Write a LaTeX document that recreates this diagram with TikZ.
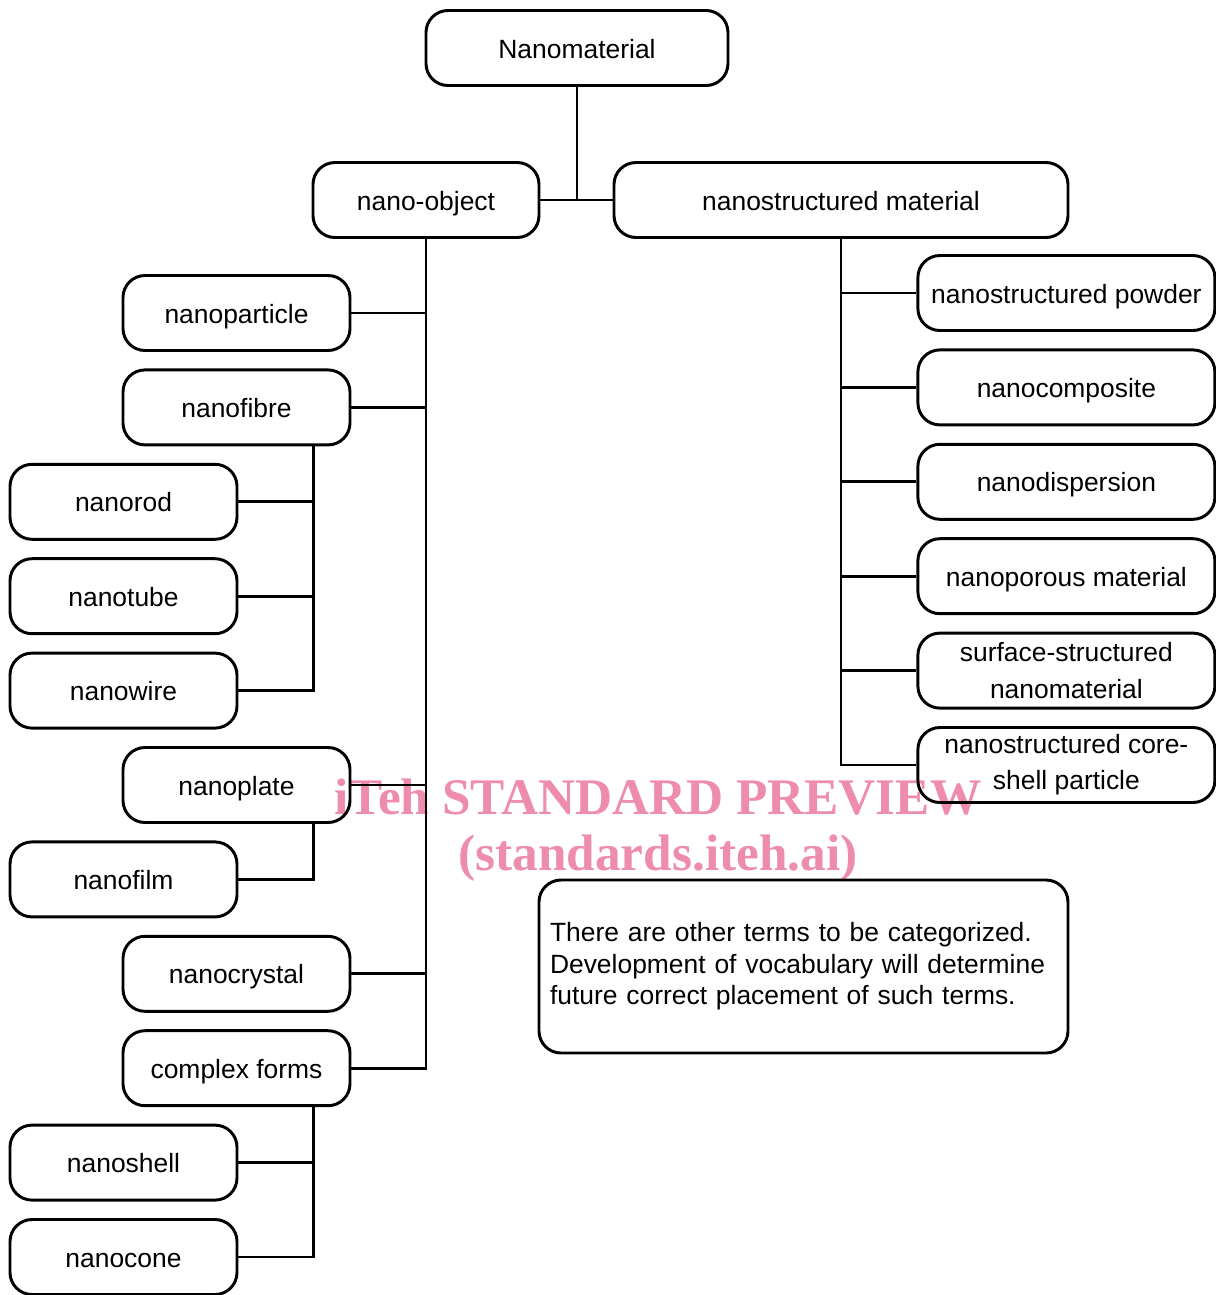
\documentclass[tikz,border=0pt]{standalone}
\usepackage{fontspec}
\setmainfont{Liberation Sans}
\newfontfamily\wmfont{Liberation Serif}
\usetikzlibrary{positioning}
\definecolor{wmpink}{RGB}{238,141,171}

\begin{document}
\begin{tikzpicture}[line width=2.1pt, node distance=2.36cm,
    term/.style={draw, rounded corners=0.55cm, minimum height=1.875cm, align=center,
        inner sep=0pt, font=\fontsize{18.8}{25.8}\selectfont},
    oneline/.style={text height=18pt, text depth=3.7pt},
    sub/.style={term, oneline, minimum width=5.675cm},
    part/.style={term, minimum width=7.425cm},
    wmtext/.style={text=wmpink, font=\wmfont\bfseries\fontsize{36.5}{40}\selectfont}]

    \useasboundingbox (0,0) rectangle (30.4,-32.375);

    % Watermark
    \node [wmtext]  (wm1) at (16.45,-19.925) {iTeh STANDARD PREVIEW};
    \node [wmtext]  (wm2) at (16.45,-21.45)  {(standards.iteh.ai)};

    % Nodes {top, nano-object branch, nanostructured material branch}
    \node [term, oneline, minimum width=7.55cm]  (nm)   at (14.425,-1.2) {Nanomaterial};
    \node [term, oneline, minimum width=5.65cm]  (nobj) at (10.65,-5.0)  {nano-object};
    \node [term, oneline, minimum width=11.35cm] (nsm)  at (21.025,-5.0) {nanostructured material};

    \node [sub]     (npa)   at (5.9125,-7.825)                  {nanoparticle};
    \node [sub]     (nfi)   [below of=npa]                      {nanofibre};
    \node [sub]     (nro)   [below of=nfi, xshift=-2.825cm]     {nanorod};
    \node [sub]     (ntu)   [below of=nro]                      {nanotube};
    \node [sub]     (nwi)   [below of=ntu]                      {nanowire};
    \node [sub]     (npl)   [below of=nwi, xshift=2.825cm]      {nanoplate};
    \node [sub]     (nfm)   [below of=npl, xshift=-2.825cm]     {nanofilm};
    \node [sub]     (ncr)   [below of=nfm, xshift=2.825cm]      {nanocrystal};
    \node [sub]     (ncf)   [below of=ncr]                      {complex forms};
    \node [sub]     (nsh)   [below of=ncf, xshift=-2.825cm]     {nanoshell};
    \node [sub]     (nco)   [below of=nsh]                      {nanocone};

    \node [part, oneline] (nsp) at (26.66,-7.325)               {nanostructured powder};
    \node [part, oneline] (ncm) [below of=nsp]                  {nanocomposite};
    \node [part, oneline] (ndi) [below of=ncm]                  {nanodispersion};
    \node [part, oneline] (npo) [below of=ndi]                  {nanoporous material};
    \node [part]    (nss)   [below of=npo]                      {surface-structured\\nanomaterial};
    \node [part]    (ncs)   [below of=nss]                      {nanostructured core-\\shell particle};

    \node [draw, rounded corners=0.55cm, minimum width=13.225cm, minimum height=4.325cm,
        text width=12.675cm, inner xsep=0.275cm, align=left,
        font=\fontsize{18.8}{22.4}\selectfont] (note) at (20.0875,-24.1625)
        {There are other terms to be categorized.\\Development of vocabulary will determine\\future correct placement of such terms.};

    % Junctions on the sub-branches
    \coordinate (nfj) at ([xshift=-0.95cm]nfi.south east);
    \coordinate (nplj) at ([xshift=-0.95cm]npl.south east);
    \coordinate (ncfj) at ([xshift=-0.95cm]ncf.south east);

    % Paths
    \draw (nm.south) -- (nm.south |- nobj.east);
    \draw (nobj.east) -- (nsm.west);

    \draw (nobj.south) |- (ncf.east);
    \draw (npa.east) -- (npa.east -| nobj.south);
    \draw (nfi.east) -- (nfi.east -| nobj.south);
    \draw (npl.east) -- (npl.east -| nobj.south);
    \draw (ncr.east) -- (ncr.east -| nobj.south);

    \draw (nfj) |- (nwi.east);
    \draw (nro.east) -- (nro.east -| nfj);
    \draw (ntu.east) -- (ntu.east -| nfj);
    \draw (nplj) |- (nfm.east);
    \draw (ncfj) |- (nco.east);
    \draw (nsh.east) -- (nsh.east -| ncfj);

    \draw (nsm.south) |- (ncs.west);
    \draw (nsp.west) -- (nsp.west -| nsm.south);
    \draw (ncm.west) -- (ncm.west -| nsm.south);
    \draw (ndi.west) -- (ndi.west -| nsm.south);
    \draw (npo.west) -- (npo.west -| nsm.south);
    \draw (nss.west) -- (nss.west -| nsm.south);

\end{tikzpicture}
\end{document}
